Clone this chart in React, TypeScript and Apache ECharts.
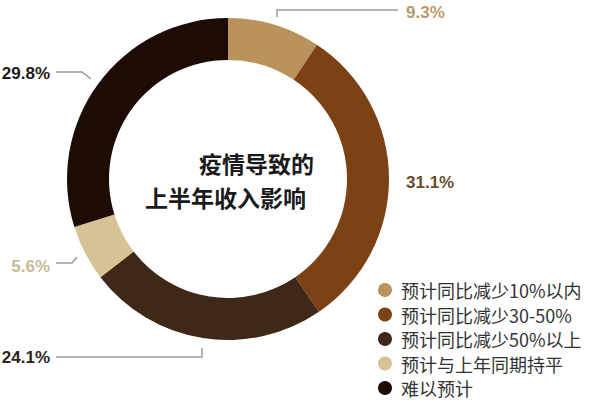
import React, { useEffect, useRef } from 'react';
import * as echarts from 'echarts';

const categories = ['预计同比减少10%以内', '预计同比减少30-50%', '预计同比减少50%以上', '预计与上年同期持平', '难以预计'];
const shares = [9.3, 31.1, 24.1, 5.6, 29.8];
const sliceColors = ['#b9935b', '#7c4216', '#402819', '#d5c396', '#1d0c03'];
const labelColors = ['#b8996a', '#6a4a30', '#2b2520', '#c8bc94', '#1e1a17'];
const titleLines = ['疫情导致的', '上半年收入影响'];

// where each percentage sits, and its leader line (none for 31.1%)
const labelSpots: { x: number; y: number; align: string; line?: number[][] }[] = [
  { x: 406, y: 12, align: 'left', line: [[277, 17], [277, 10], [398, 10]] },
  { x: 406, y: 182, align: 'left' },
  { x: 50, y: 357, align: 'right', line: [[202, 348], [202, 357], [56, 357]] },
  { x: 50, y: 266, align: 'right', line: [[77, 257], [72, 263], [56, 263]] },
  { x: 50, y: 73, align: 'right', line: [[91, 79], [82, 72], [56, 72]] },
];

const numFont = '"Liberation Sans", Arial, sans-serif';
const cjkFont = '"Noto Sans CJK SC", "Noto Sans", sans-serif';

export default function App() {
  const ref = useRef<HTMLDivElement>(null);

  useEffect(() => {
    document.body.style.margin = '0';
    if (!ref.current) return;
    const chart = echarts.init(ref.current, null, { renderer: 'svg' });

    chart.setOption({
      animation: false,
      backgroundColor: '#ffffff',
      legend: {
        orient: 'vertical',
        left: 378,
        top: 281,
        padding: 0,
        icon: 'circle',
        itemWidth: 22,
        itemHeight: 14,
        itemGap: 6.5,
        textStyle: { fontSize: 18, lineHeight: 18, color: '#333333', fontFamily: cjkFont },
        data: categories,
      },
      graphic: [
        {
          type: 'text', left: 199, top: 151,
          style: { text: titleLines[0], fontSize: 23, fontWeight: 'bold', fill: '#1a1a1a', fontFamily: cjkFont },
        },
        {
          type: 'text', left: 145, top: 185,
          style: { text: titleLines[1], fontSize: 23, fontWeight: 'bold', fill: '#1a1a1a', fontFamily: cjkFont },
        },
      ],
      series: [
        {
          type: 'pie',
          center: [228, 179],
          radius: [119, 161],
          startAngle: 90,
          clockwise: true,
          avoidLabelOverlap: false,
          silent: true,
          label: {
            show: true,
            position: 'outside',
            formatter: (p: any) => `${p.value}%`,
            fontSize: 17,
            fontWeight: 'bold',
            fontFamily: numFont,
          },
          labelLine: { show: true, lineStyle: { color: '#9a9a9a', width: 1.5 } },
          labelLayout: (p: any) => {
            const s = labelSpots[p.dataIndex];
            const out: any = { x: s.x, y: s.y, align: s.align, verticalAlign: 'middle' };
            if (s.line) out.labelLinePoints = s.line;
            return out;
          },
          data: shares.map((v, i) => ({
            name: categories[i],
            value: v,
            itemStyle: { color: sliceColors[i] },
            label: { color: labelColors[i] },
            labelLine: { show: !!labelSpots[i].line },
          })),
        },
      ],
    });

    return () => chart.dispose();
  }, []);

  return <div ref={ref} style={{ width: 600, height: 400 }} />;
}
